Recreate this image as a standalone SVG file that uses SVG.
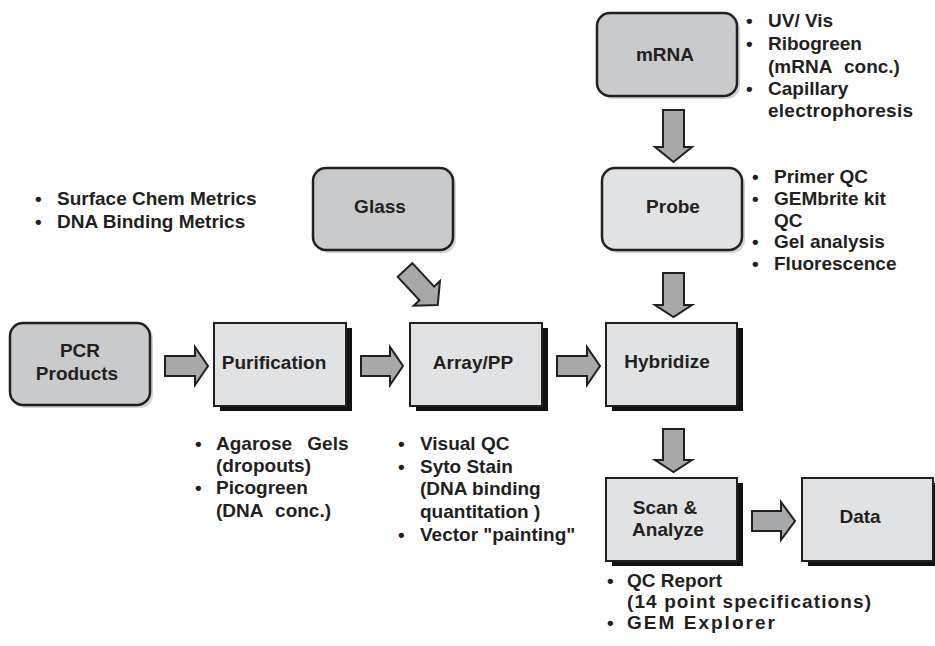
<svg xmlns="http://www.w3.org/2000/svg" width="935" height="646" viewBox="0 0 935 646">
<style>
text{font-family:"Liberation Sans",Arial,sans-serif;font-weight:bold;font-size:19px;fill:#231f20}
.lbl{text-anchor:middle}
.box{fill:#e1e2e4;stroke:#231f20;stroke-width:2}
.shd{fill:#111}
.rbox{fill:#c9cacc;stroke:#231f20;stroke-width:2.5}
.rshd{fill:#d4d4d4}
.rboxl{fill:#e1e2e4;stroke:#231f20;stroke-width:2.5}
.arr{fill:#a7a8aa;stroke:#231f20;stroke-width:2;stroke-linejoin:miter}
</style>
<rect width="935" height="646" fill="#fff"/>

<g id="connectors">
<polygon class="arr" points="165,356 195,356 195,347 208,366 195,385 195,376 165,376"/>
<polygon class="arr" points="361,356 390,356 390,347 403,366 390,385 390,376 361,376"/>
<polygon class="arr" points="557,356 587,356 587,347 600,366 587,385 587,376 557,376"/>
<polygon class="arr" points="752,511 781,511 781,502 795,521 781,540 781,531 752,531"/>
<polygon class="arr" points="663,110 684,110 684,147 692,147 673.5,162 655,147 663,147"/>
<polygon class="arr" points="663,273 684,273 684,305 692,305 673.5,317 655,305 663,305"/>
<polygon class="arr" points="663,429 684,429 684,460 692,460 673.5,472 655,460 663,460"/>
<polygon class="arr" transform="translate(405,270) rotate(47)" points="0,-10 32,-10 32,-18 48,0 32,18 32,10 0,10"/>
</g>

<g id="pcr">
<rect class="rshd" x="13" y="326" width="140" height="82" rx="13"/>
<rect class="rbox" x="10" y="323" width="140" height="82" rx="13"/>
<text class="lbl" x="80" y="357">PCR</text>
<text class="lbl" x="77" y="380">Products</text>
</g>

<g id="purification">
<rect class="shd" x="220" y="328" width="132" height="83"/>
<rect class="box" x="214" y="323" width="132" height="83"/>
<text class="lbl" x="274" y="369">Purification</text>
</g>

<g id="array">
<rect class="shd" x="416" y="328" width="132" height="83"/>
<rect class="box" x="410" y="323" width="132" height="83"/>
<text class="lbl" x="473" y="369">Array/PP</text>
</g>

<g id="hybridize">
<rect class="shd" x="612" y="328" width="131" height="83"/>
<rect class="box" x="606" y="323" width="131" height="83"/>
<text class="lbl" x="667" y="368">Hybridize</text>
</g>

<g id="scan">
<rect class="shd" x="612" y="483" width="131" height="83"/>
<rect class="box" x="606" y="478" width="131" height="83"/>
<text class="lbl" x="665" y="514">Scan &amp;</text>
<text class="lbl" x="668" y="536">Analyze</text>
</g>

<g id="data">
<rect class="shd" x="808" y="483" width="127" height="83"/>
<rect class="box" x="802" y="478" width="131" height="83"/>
<text class="lbl" x="860" y="523">Data</text>
</g>

<g id="glass">
<rect class="rshd" x="316" y="171" width="140" height="82" rx="13"/>
<rect class="rbox" x="313" y="168" width="140" height="82" rx="13"/>
<text class="lbl" x="380" y="213">Glass</text>
</g>

<g id="mrna">
<rect class="rshd" x="600" y="16" width="140" height="83" rx="13"/>
<rect class="rbox" x="597" y="13" width="140" height="83" rx="13"/>
<text class="lbl" x="665" y="61">mRNA</text>
</g>

<g id="probe">
<rect class="rshd" x="605" y="171" width="140" height="82" rx="13"/>
<rect class="rboxl" x="602" y="168" width="140" height="82" rx="13"/>
<text class="lbl" x="673" y="213">Probe</text>
</g>

<g id="notes-glass">
<text x="35" y="205">•</text><text x="57" y="205">Surface Chem Metrics</text>
<text x="35" y="228">•</text><text x="57" y="228">DNA Binding Metrics</text>
</g>

<g id="notes-mrna">
<text x="746" y="27">•</text><text x="768" y="27">UV/ Vis</text>
<text x="746" y="50">•</text><text x="768" y="50">Ribogreen</text>
<text x="768" y="73" style="word-spacing:7px">(mRNA conc.)</text>
<text x="746" y="95">•</text><text x="768" y="95">Capillary</text>
<text x="768" y="117" textLength="145" lengthAdjust="spacing">electrophoresis</text>
</g>

<g id="notes-probe">
<text x="752" y="183">•</text><text x="774" y="183">Primer QC</text>
<text x="752" y="205">•</text><text x="774" y="205">GEMbrite kit</text>
<text x="774" y="227">QC</text>
<text x="752" y="248">•</text><text x="774" y="248">Gel analysis</text>
<text x="752" y="270">•</text><text x="774" y="270">Fluorescence</text>
</g>

<g id="notes-purification">
<text x="195" y="450">•</text><text x="216" y="450" style="word-spacing:10px">Agarose Gels</text>
<text x="216" y="472">(dropouts)</text>
<text x="195" y="494">•</text><text x="216" y="494">Picogreen</text>
<text x="216" y="517" style="word-spacing:7px">(DNA conc.)</text>
</g>

<g id="notes-array">
<text x="398" y="450">•</text><text x="420" y="450">Visual QC</text>
<text x="398" y="473">•</text><text x="420" y="473">Syto Stain</text>
<text x="420" y="495">(DNA binding</text>
<text x="420" y="518">quantitation )</text>
<text x="398" y="541">•</text><text x="420" y="541">Vector "painting"</text>
</g>

<g id="notes-scan">
<text x="607" y="587">•</text><text x="627" y="587">QC Report</text>
<text x="627" y="608" textLength="244" lengthAdjust="spacing">(14 point specifications)</text>
<text x="607" y="629">•</text><text x="627" y="629" textLength="148" lengthAdjust="spacing">GEM Explorer</text>
</g>
</svg>
